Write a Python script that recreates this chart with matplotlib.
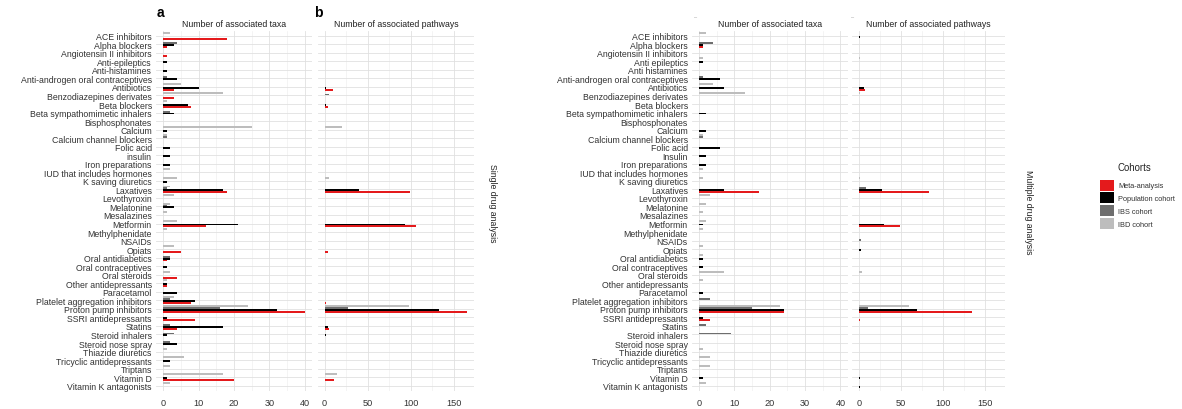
import numpy as np
import matplotlib.pyplot as plt
from matplotlib.patches import Patch

plt.rcParams['font.family'] = ['Liberation Sans', 'DejaVu Sans']

# categories (top to bottom)
drugs_single = ['ACE inhibitors', 'Alpha blockers', 'Angiotensin II inhibitors', 'Anti-epileptics',
                'Anti-histamines', 'Anti-androgen oral contraceptives', 'Antibiotics',
                'Benzodiazepines derivates', 'Beta blockers', 'Beta sympathomimetic inhalers',
                'Bisphosphonates', 'Calcium', 'Calcium channel blockers', 'Folic acid', 'insulin',
                'Iron preparations', 'IUD that includes hormones', 'K saving diuretics', 'Laxatives',
                'Levothyroxin', 'Melatonine', 'Mesalazines', 'Metformin', 'Methylphenidate', 'NSAIDs',
                'Opiats', 'Oral antidiabetics', 'Oral contraceptives', 'Oral steroids',
                'Other antidepressants', 'Paracetamol', 'Platelet aggregation inhibitors',
                'Proton pump inhibitors', 'SSRI antidepressants', 'Statins', 'Steroid inhalers',
                'Steroid nose spray', 'Thiazide diuretics', 'Tricyclic antidepressants', 'Triptans',
                'Vitamin D', 'Vitamin K antagonists']
drugs_multi = ['ACE inhibitors', 'Alpha blockers', 'Angiotensin II inhibitors', 'Anti epileptics',
               'Anti histamines', 'Anti-androgen oral contraceptives', 'Antibiotics',
               'Benzodiazepines derivates', 'Beta blockers', 'Beta sympathomimetic inhalers',
               'Bisphosphonates', 'Calcium', 'Calcium channel blockers', 'Folic acid', 'Insulin',
               'Iron preparations', 'IUD that includes hormones', 'K saving diuretics', 'Laxatives',
               'Levothyroxin', 'Melatonine', 'Mesalazines', 'Metformin', 'Methylphenidate', 'NSAIDs',
               'Opiats', 'Oral antidiabetics', 'Oral contraceptives', 'Oral steroids',
               'Other antidepressants', 'Paracetamol', 'Platelet aggregation inhibitors',
               'Proton pump inhibitors', 'SSRI antidepressants', 'Statins', 'Steroid inhalers',
               'Steroid nose spray', 'Thiazide diuretics', 'Tricyclic antidepressants', 'Triptans',
               'Vitamin D', 'Vitamin K antagonists']

cohorts = ['Meta-analysis', 'Population cohort', 'IBS cohort', 'IBD cohort']

# single drug analysis - number of associated taxa
single_taxa_meta = [18, 1, 1, 0, 0, 0, 3, 3, 8, 0,
                    0, 0, 0, 0, 0, 0, 0, 0, 18, 0,
                    0, 0, 12, 0, 0, 5, 1, 0, 4, 1,
                    0, 8, 40, 9, 4, 0, 0, 0, 0, 0,
                    20, 0]
single_taxa_pop = [0, 3, 0, 1, 1, 4, 10, 0, 7, 3,
                   0, 1, 0, 2, 2, 2, 0, 1, 17, 0,
                   3, 0, 21, 0, 0, 0, 2, 1, 0, 1,
                   4, 9, 32, 1, 17, 1, 4, 0, 2, 0,
                   1, 0]
single_taxa_ibs = [0, 4, 0, 0, 0, 1, 0, 0, 0, 2,
                   0, 0, 1, 0, 0, 0, 0, 0, 1, 0,
                   1, 0, 0, 0, 0, 0, 2, 0, 0, 0,
                   0, 2, 16, 0, 2, 3, 2, 0, 0, 0,
                   0, 0]
single_taxa_ibd = [2, 0, 0, 0, 0, 0, 5, 17, 1, 0,
                   0, 25, 1, 0, 0, 0, 2, 4, 2, 3,
                   2, 1, 4, 1, 0, 3, 0, 0, 2, 1,
                   0, 3, 24, 0, 0, 0, 0, 1, 6, 2,
                   17, 2]

# single drug analysis - number of associated pathways
single_path_meta = [0, 0, 0, 0, 0, 0, 10, 0, 4, 0,
                    0, 1, 0, 0, 0, 0, 0, 0, 99, 0,
                    0, 0, 106, 0, 0, 4, 0, 0, 0, 0,
                    0, 2, 166, 0, 5, 0, 0, 0, 0, 0,
                    11, 0]
single_path_pop = [0, 0, 0, 0, 0, 0, 2, 0, 2, 1,
                   0, 0, 0, 0, 0, 0, 0, 0, 40, 0,
                   0, 0, 93, 0, 0, 0, 1, 0, 0, 0,
                   0, 0, 133, 0, 4, 2, 0, 0, 0, 0,
                   0, 0]
single_path_ibs = [0, 0, 0, 0, 0, 0, 0, 5, 0, 0,
                   0, 0, 0, 0, 0, 0, 0, 0, 0, 0,
                   0, 0, 0, 0, 0, 0, 0, 0, 0, 0,
                   0, 1, 27, 0, 0, 0, 0, 0, 0, 0,
                   0, 0]
single_path_ibd = [0, 0, 0, 1, 0, 0, 0, 0, 1, 0,
                   0, 20, 0, 0, 0, 0, 0, 5, 1, 0,
                   0, 0, 0, 0, 0, 1, 0, 0, 1, 0,
                   0, 0, 98, 0, 0, 0, 0, 0, 0, 1,
                   14, 1]

# multiple drug analysis - number of associated taxa
multi_taxa_meta = [0, 1, 0, 0, 0, 0, 0, 0, 0, 0,
                   0, 0, 0, 0, 0, 0, 0, 0, 17, 0,
                   0, 0, 0, 0, 0, 0, 0, 0, 0, 0,
                   0, 0, 24, 3, 0, 0, 0, 0, 0, 0,
                   0, 0]
multi_taxa_pop = [0, 1, 0, 1, 0, 6, 7, 0, 0, 2,
                  0, 2, 0, 6, 2, 2, 0, 0, 7, 0,
                  0, 0, 1, 0, 0, 0, 1, 1, 0, 0,
                  1, 0, 24, 1, 0, 0, 0, 0, 0, 0,
                  1, 0]
multi_taxa_ibs = [0, 4, 0, 0, 0, 1, 0, 0, 0, 0,
                  0, 0, 1, 0, 0, 0, 0, 0, 0, 0,
                  0, 0, 0, 0, 0, 0, 0, 0, 0, 0,
                  0, 3, 15, 0, 2, 9, 0, 0, 0, 0,
                  0, 0]
multi_taxa_ibd = [2, 0, 0, 1, 0, 0, 4, 13, 0, 0,
                  0, 0, 1, 0, 0, 0, 1, 1, 0, 3,
                  2, 1, 2, 1, 0, 1, 1, 0, 7, 1,
                  0, 0, 23, 0, 0, 0, 0, 1, 3, 3,
                  0, 2]

# multiple drug analysis - number of associated pathways
multi_path_meta = [0, 0, 0, 0, 0, 0, 7, 0, 0, 0,
                   0, 0, 0, 0, 0, 0, 0, 0, 83, 0,
                   0, 0, 49, 0, 0, 0, 0, 0, 0, 0,
                   0, 0, 134, 1, 0, 0, 0, 0, 0, 0,
                   0, 0]
multi_path_pop = [1, 0, 0, 0, 0, 0, 6, 0, 0, 0,
                  0, 0, 0, 0, 0, 0, 0, 0, 27, 0,
                  0, 0, 30, 0, 0, 2, 0, 0, 0, 0,
                  0, 0, 69, 0, 0, 0, 0, 0, 0, 0,
                  1, 1]
multi_path_ibs = [0, 0, 0, 0, 0, 0, 0, 0, 0, 0,
                  0, 0, 0, 0, 0, 0, 0, 0, 8, 0,
                  0, 0, 0, 0, 3, 0, 0, 0, 0, 0,
                  0, 0, 11, 0, 0, 0, 0, 0, 0, 0,
                  0, 0]
multi_path_ibd = [0, 0, 0, 1, 0, 0, 0, 1, 0, 0,
                  0, 0, 0, 0, 0, 0, 0, 1, 0, 0,
                  0, 0, 0, 0, 0, 0, 0, 0, 4, 0,
                  0, 0, 59, 0, 0, 0, 0, 0, 0, 0,
                  0, 0]

colors = ['#e41a1c', '#000000', '#6e6e6e', '#bdbdbd']
fs = 6.3
txt_col = '#333333'


def draw_panel(rect, series, labels, xlim, majors, minors, title, show_labels):
    ax = fig.add_axes(rect)
    n = len(labels)
    y = np.arange(n)[::-1]
    w = 0.9 / 4
    for k, vals in enumerate(series):
        ax.barh(y - 0.45 + w * (k + 0.5), vals, height=w, color=colors[k], linewidth=0, zorder=3)
    ax.set_xlim(*xlim)
    ax.set_ylim(-0.6, n - 0.4)
    ax.set_xticks(majors)
    ax.set_xticks(minors, minor=True)
    ax.set_xticklabels([str(m) for m in majors], fontsize=6.6, color=txt_col)
    ax.set_yticks(y)
    if show_labels:
        ax.set_yticklabels(labels, fontsize=fs, color=txt_col)
    else:
        ax.set_yticklabels([])
    ax.tick_params(length=0, which='both', pad=3)
    ax.tick_params(axis='x', pad=5)
    ax.grid(True, which='major', color='#e0e0e0', linewidth=0.6, zorder=0)
    ax.grid(True, which='minor', axis='x', color='#ececec', linewidth=0.4, zorder=0)
    for s in ax.spines.values():
        s.set_visible(False)
    ax.set_title(title, fontsize=fs, color='#222222', pad=3)
    return ax


fig = plt.figure(figsize=(11.82, 4.10), dpi=100)

W, H = 1182.0, 410.0
bot = (H - 391.8) / H
hgt = (391.8 - 31.6) / H

ta = ([0, 10, 20, 30, 40], [5, 15, 25, 35], (-2, 42))
pb = ([0, 50, 100, 150], [25, 75, 125], (-8.3, 174.3))

a1 = draw_panel([156 / W, bot, 156 / W, hgt],
                [single_taxa_meta, single_taxa_pop, single_taxa_ibs, single_taxa_ibd],
                drugs_single, ta[2], ta[0], ta[1], 'Number of associated taxa', True)
b1 = draw_panel([317.5 / W, bot, 157 / W, hgt],
                [single_path_meta, single_path_pop, single_path_ibs, single_path_ibd],
                drugs_single, pb[2], pb[0], pb[1], 'Number of associated pathways', False)
a2 = draw_panel([692 / W, bot, 155.5 / W, hgt],
                [multi_taxa_meta, multi_taxa_pop, multi_taxa_ibs, multi_taxa_ibd],
                drugs_multi, ta[2], ta[0], ta[1], 'Number of associated taxa', True)
b2 = draw_panel([852 / W, bot, 153.4 / W, hgt],
                [multi_path_meta, multi_path_pop, multi_path_ibs, multi_path_ibd],
                drugs_multi, pb[2], pb[0], pb[1], 'Number of associated pathways', False)

# panel tags
fig.text(160 / W, 1 - 13 / H, 'a', fontsize=10, fontweight='bold', ha='center', va='center')
fig.text(318 / W, 1 - 13 / H, 'b', fontsize=10, fontweight='bold', ha='center', va='center')
fig.text(696 / W, 1 - 18 / H, '–', fontsize=4, color='#999999', ha='center', va='center')
fig.text(852 / W, 1 - 18 / H, '–', fontsize=4, color='#999999', ha='center', va='center')

# side labels
fig.text(493 / W, 1 - 203 / H, 'Single drug analysis', rotation=270, fontsize=fs,
         color='#222222', ha='center', va='center')
fig.text(1028 / W, 1 - 212 / H, 'Multiple drug analysis', rotation=270, fontsize=fs,
         color='#222222', ha='center', va='center')

# legend
fig.text(1118 / W, 1 - 168 / H, 'Cohorts', fontsize=fs + 0.6, color='#222222',
         ha='left', va='center')
handles = [Patch(facecolor=c, edgecolor='none') for c in colors]
leg = fig.legend(handles, cohorts, loc='upper left', bbox_to_anchor=(1093 / W, 1 - 174 / H),
                 frameon=False, fontsize=5.3,
                 handlelength=2.0, handleheight=1.9, labelspacing=0.25, handletextpad=0.5)
for t in leg.get_texts():
    t.set_color('#333333')

fig.savefig('out.png', dpi=100)
